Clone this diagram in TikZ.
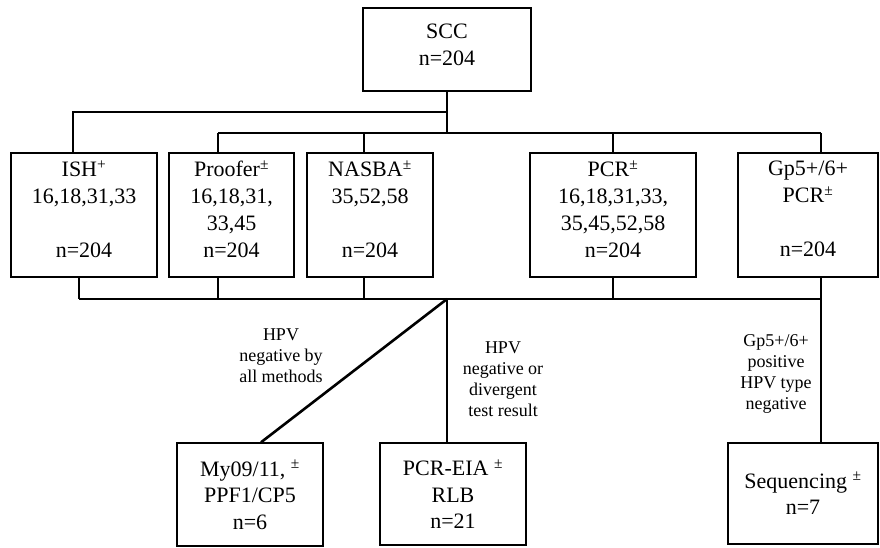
\documentclass[tikz,border=0pt]{standalone}
\usepackage{fontspec}
\setmainfont{Liberation Serif}
\usepackage{tikz}
\usetikzlibrary{positioning}
\usetikzlibrary{calc}
\tikzstyle{block} = [draw, rectangle, inner sep=0pt, align=center, minimum height=124pt, font=\fontsize{22}{27}\selectfont]
\tikzstyle{leaf} = [draw, rectangle, inner sep=0pt, align=center, font=\fontsize{22}{26.5}\selectfont]
\tikzstyle{note} = [inner sep=0pt, align=center, font=\fontsize{18}{21}\selectfont]
\tikzstyle{coord} = [coordinate]
\newcommand{\dpad}[1]{\rule[-#1]{0pt}{#1}}

\begin{document}
\begin{tikzpicture}[x=1pt,y=-1pt,line width=1.4pt]
    \useasboundingbox (0,0) rectangle (880,547);
    \node [block, minimum width=168pt, minimum height=83pt] (scc) at (447,49.5) {SCC\\n=204\dpad{10pt}};

    % test methods
    \node [block, minimum width=146pt] (ish) at (84,215) {ISH\textsuperscript{+}\\16,18,31,33\\[27pt]n=204\dpad{12pt}};
    \node [block, minimum width=125pt] (proofer) at (231.5,215) {Proofer\textsuperscript{±}\\16,18,31,\\33,45\\n=204\dpad{12pt}};
    \node [block, minimum width=126pt] (nasba) at (370,215) {NASBA\textsuperscript{±}\\35,52,58\\[27pt]n=204\dpad{12pt}};
    \node [block, minimum width=166pt] (pcr) at (613,215) {PCR\textsuperscript{±}\\16,18,31,33,\\35,45,52,58\\n=204\dpad{12pt}};
    \node [block, minimum width=140pt] (gp) at (808,215) {Gp5+/6+\\PCR\textsuperscript{±}\\[27pt]n=204\dpad{12pt}};

    % follow-up
    \node [leaf, minimum width=146pt, minimum height=103pt] (my) at (250,494.5) {My09/11, \textsuperscript{±}\\PPF1/CP5\\n=6};
    \node [leaf, minimum width=146pt, minimum height=102pt] (eia) at (453,494) {PCR-EIA \textsuperscript{±}\\RLB\\n=21};
    \node [leaf, minimum width=150pt, minimum height=101pt] (seq) at (803,493.5) {Sequencing \textsuperscript{±}\\n=7};

    \node [note] (allneg) at (281,356) {HPV\\negative by\\all methods};
    \node [note] (diverg) at (503,379.5) {HPV\\negative or\\divergent\\test result};
    \node [note] (typeneg) at (776,373.5) {Gp5+/6+\\positive\\HPV type\\negative};

    % upper buses
    \node [coord] (a-ish) at (73,112) {};
    \node [coord] (a-scc) at (447,112) {};
    \node [coord] (b-scc) at (447,133) {};
    \foreach \n/\x in {proofer/218,nasba/364,pcr/613,gp/821}
        \node [coord] (b-\n) at (\x,133) {};

    \draw (scc) -- (b-scc);
    \draw (a-scc) -- (a-ish) -- (a-ish |- ish.north);
    \draw (b-proofer) -- (b-gp);
    \foreach \n in {proofer,nasba,pcr,gp}
        \draw (b-\n) -- (b-\n |- \n.north);

    % lower bus
    \foreach \n/\x in {ish/79,proofer/218,nasba/364,pcr/613,gp/821}
        \node [coord] (c-\n) at (\x,299) {};
    \node [coord] (hub) at (447,299) {};

    \draw (c-ish) -- (c-gp);
    \foreach \n in {ish,proofer,nasba,pcr,gp}
        \draw (c-\n |- \n.south) -- (c-\n);

    \draw [line width=2.6pt] (hub) -- ([xshift=11pt]my.north);
    \draw (hub) -- (hub |- eia.north);
    \draw (c-gp) -- (c-gp |- seq.north);
\end{tikzpicture}
\end{document}
